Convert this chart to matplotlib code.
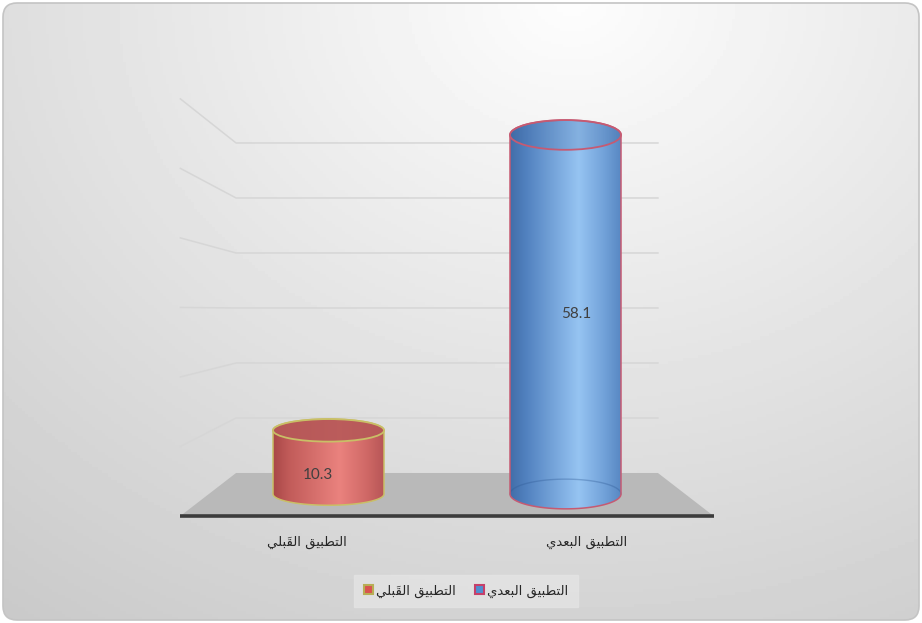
import numpy as np
import matplotlib
matplotlib.use("Agg")
import matplotlib.pyplot as plt
from matplotlib.colors import LinearSegmentedColormap
from matplotlib.patches import Polygon, Ellipse, FancyBboxPatch, Patch

# data
categories = ["التطبيق القَبلي", "التطبيق البعدي"]
values = [10.3, 58.1]
grid_values = [10, 20, 30, 40, 50, 60]

W, H = 922, 623

# --- minimal arabic shaping (matplotlib has no bidi / joining) ---
FORMS = {  # isolated, final, initial, medial
    "\u0627": ("\uFE8D", "\uFE8E", None, None),
    "\u0644": ("\uFEDD", "\uFEDE", "\uFEDF", "\uFEE0"),
    "\u062A": ("\uFE95", "\uFE96", "\uFE97", "\uFE98"),
    "\u0637": ("\uFEC1", "\uFEC2", "\uFEC3", "\uFEC4"),
    "\u0628": ("\uFE8F", "\uFE90", "\uFE91", "\uFE92"),
    "\u064A": ("\uFEF1", "\uFEF2", "\uFEF3", "\uFEF4"),
    "\u0642": ("\uFED5", "\uFED6", "\uFED7", "\uFED8"),
    "\u0639": ("\uFEC9", "\uFECA", "\uFECB", "\uFECC"),
    "\u062F": ("\uFEA9", "\uFEAA", None, None),
}


def is_mark(ch):
    return "\u064B" <= ch <= "\u0652"


def shape(text):
    chars = list(text)
    out = []
    for k, ch in enumerate(chars):
        if ch not in FORMS:
            out.append(ch)
            continue
        j = k - 1
        while j >= 0 and is_mark(chars[j]):
            j -= 1
        prev = chars[j] if j >= 0 else None
        j = k + 1
        while j < len(chars) and is_mark(chars[j]):
            j += 1
        nxt = chars[j] if j < len(chars) else None
        jp = prev in FORMS and FORMS[prev][2] is not None
        jn = FORMS[ch][2] is not None and nxt in FORMS
        f = FORMS[ch]
        out.append(f[3] if (jp and jn) else f[1] if jp else f[2] if jn else f[0])
    # group marks with their base, then reverse for visual order
    clusters = []
    for ch in out:
        if is_mark(ch) and clusters:
            clusters[-1] = ch + clusters[-1]
        else:
            clusters.append(ch)
    return "".join(reversed(clusters))


# --- pseudo 3d projection ---
# x in category units, y in value units at mid depth
PX_X, PX_V = 237.0, 6.18
CX_PX, ZERO_PX = 447.0, 494.0
PLANES = {"front": (1.125, -3.56), "mid": (1.0, 0.0), "back": (0.89, 3.40),
          "label": (1.09, -2.6)}


def proj(x, v, plane):
    s, z = PLANES[plane]
    return 0.5 + (x - 0.5) * s, z + v * s


fig = plt.figure(figsize=(W / 100, H / 100), dpi=100)
fig.patch.set_facecolor("white")

# background panel
ax_bg = fig.add_axes([0, 0, 1, 1])
ax_bg.set_xlim(0, W)
ax_bg.set_ylim(0, H)
ax_bg.axis("off")
yy, xx = np.mgrid[0:1:200j, 0:1:300j]
d = np.sqrt(((xx - 0.62) / 0.95) ** 2 + ((yy - 1.0) / 1.15) ** 2)
grad = 253 - 48 * np.clip(d, 0, 1.1)
frame = FancyBboxPatch((3, 3), W - 6, H - 6, boxstyle="round,pad=0,rounding_size=14",
                       facecolor="none", edgecolor="#c4c4c4", lw=1.2, zorder=2)
ax_bg.add_patch(frame)
bg = ax_bg.imshow(grad, extent=(0, W, 0, H), origin="lower", cmap="gray",
                  vmin=0, vmax=255, aspect="auto", zorder=1)
bg.set_clip_path(frame)

ax = fig.add_axes([0, 0, 1, 1])
ax.patch.set_alpha(0)
ax.axis("off")

# walls gridlines
for g in grid_values:
    bl = proj(-0.5, g, "back")
    br = proj(1.5, g, "back")
    fl = proj(-0.5, g, "front")
    ax.plot([fl[0], bl[0], br[0]], [fl[1], bl[1], br[1]], color="#d6d6d6", lw=1.1, zorder=1)

# floor
corners = [proj(-0.5, 0, "back"), proj(1.5, 0, "back"), proj(1.5, 0, "front"), proj(-0.5, 0, "front")]
ax.add_patch(Polygon(corners, closed=True, facecolor="#b9b9b9", edgecolor="none", zorder=2))
fl, fr = proj(-0.5, 0, "front"), proj(1.5, 0, "front")
ax.plot([fl[0], fr[0]], [fl[1], fr[1]], color="#3c3c3c", lw=2.6, solid_capstyle="butt", zorder=2.5)

# cylinders
RX = 55.5 / PX_X
red_cmap = LinearSegmentedColormap.from_list("r", [(0, "#a94848"), (0.15, "#c25c5a"),
                                                    (0.6, "#ea827e"), (0.85, "#cf6866"), (1, "#b75656")])
blue_cmap = LinearSegmentedColormap.from_list("b", [(0, "#426ea9"), (0.15, "#5282c0"),
                                                     (0.62, "#96c4f2"), (0.85, "#72a2d9"), (1, "#5888c3")])
styles = [
    dict(cmap=red_cmap, edge="#c9bf66", top="#b65858", top_alpha=0.9),
    dict(cmap=blue_cmap, edge="#c65a72", top="#3a5f96", top_alpha=0.18),
]

t = np.linspace(0, np.pi, 80)
for i, (v, st) in enumerate(zip(values, styles)):
    cx, cy = proj(i, 0, "mid")
    top = v
    RY = (10.5 + 0.075 * v) / PX_V  # taller cylinders get rounder ellipses
    xs = np.concatenate([cx + RX * np.cos(t), cx - RX * np.cos(t)])
    ys = np.concatenate([top + RY * np.sin(t), cy - RY * np.sin(t)])
    sil = Polygon(np.column_stack([xs, ys]), closed=True, facecolor="none",
                  edgecolor=st["edge"], lw=1.1, zorder=4)
    ax.add_patch(sil)
    img = ax.imshow(np.linspace(0, 1, 256)[None, :], extent=(cx - RX, cx + RX, cy - RY, top + RY),
                    cmap=st["cmap"], aspect="auto", zorder=3)
    img.set_clip_path(sil)
    if i == 1:
        ax.plot(cx + RX * np.cos(t), cy + RY * np.sin(t), color="#2f5a95", alpha=0.35, lw=1, zorder=3.5)
    ax.add_patch(Ellipse((cx, top), 2 * RX, 2 * RY, facecolor=st["top"], alpha=st["top_alpha"],
                         edgecolor="none", zorder=4.5))
    ax.add_patch(Ellipse((cx, top), 2 * RX, 2 * RY, facecolor="none",
                         edgecolor=st["edge"], lw=1.3, zorder=4.6))
    lx, ly = proj(i, v / 2, "label")
    ax.text(lx, ly, f"{v}", ha="center", va="center", fontsize=11, color="#404040",
            family="Lato", zorder=6)
    tx, ty = proj(i, 0, "front")
    tx = 0.5 + (i - 0.5) * 1.18
    ax.annotate(shape(categories[i]), (tx, ty), xytext=(0, -26), textcoords="offset pixels",
                ha="center", va="center", fontsize=9.5, color="#262626", family="DejaVu Sans", zorder=6)

ax.set_xlim(0.5 - CX_PX / PX_X, 0.5 + (W - CX_PX) / PX_X)
ax.set_ylim((ZERO_PX - H) / PX_V, ZERO_PX / PX_V)

handles = [Patch(facecolor="#d9534f", edgecolor="#b8ae55", lw=1.5, label=shape(categories[0])),
           Patch(facecolor="#4f8fd0", edgecolor="#c6406a", lw=1.5, label=shape(categories[1]))]
leg = fig.legend(handles=handles, loc="center", bbox_to_anchor=(466 / W, 1 - 591 / H), ncol=2,
                 frameon=True, fancybox=False, handlelength=0.7, handleheight=0.7,
                 handletextpad=0.25, columnspacing=1.4, borderpad=0.75,
                 prop={"family": "DejaVu Sans", "size": 9.5})
leg.get_frame().set_facecolor("#e4e4e4")
leg.get_frame().set_edgecolor("#e4e4e4")
for txt in leg.get_texts():
    txt.set_color("#262626")

fig.savefig("out.png", dpi=100)
